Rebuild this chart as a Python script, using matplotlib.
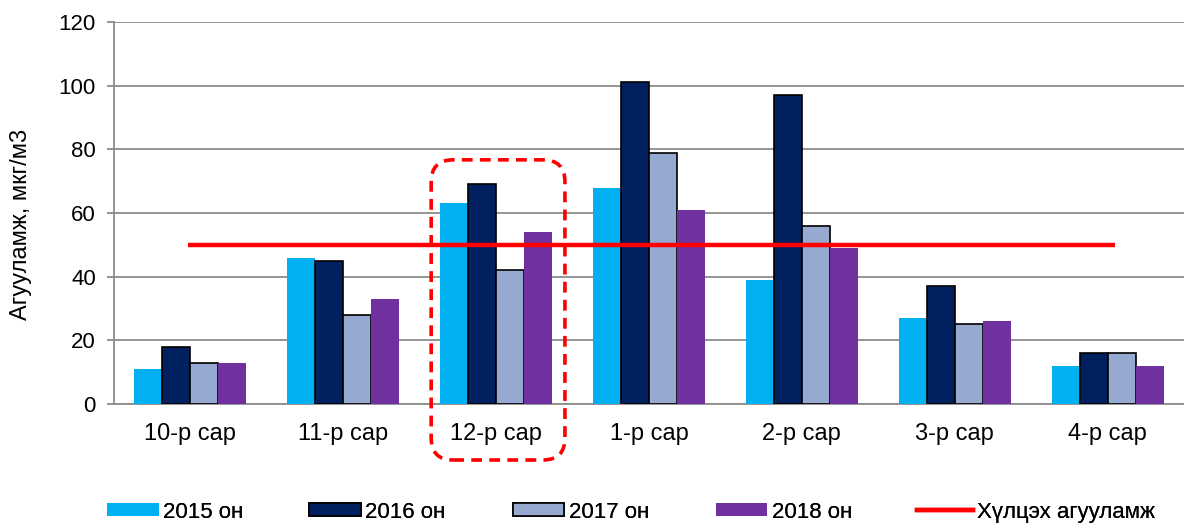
import numpy as np
from matplotlib import pyplot as plt
from matplotlib.patches import FancyBboxPatch, Patch
from matplotlib.lines import Line2D
from matplotlib.transforms import IdentityTransform

plt.rcParams['font.family'] = ['Liberation Sans', 'DejaVu Sans']

months = ['10-р сар', '11-р сар', '12-р сар', '1-р сар', '2-р сар', '3-р сар', '4-р сар']
years = ['2015 он', '2016 он', '2017 он', '2018 он']
v2015 = [11, 46, 63, 68, 39, 27, 12]
v2016 = [18, 45, 69, 101, 97, 37, 16]
v2017 = [13, 28, 42, 79, 56, 25, 16]
v2018 = [13, 33, 54, 61, 49, 26, 12]
norm = 50
norm_label = 'Хүлцэх агууламж'
highlight = '12-р сар'

colors = ['#00B0F0', '#002060', '#95A9D1', '#7030A0']
edges = [None, 'black', 'black', None]
series = [v2015, v2016, v2017, v2018]

fig = plt.figure(figsize=(11.84, 5.23), dpi=100)
ax = fig.add_axes([114 / 1184, 1 - 404 / 523, 1 - 114 / 1184, (404 - 22) / 523])

x = np.arange(len(months))
w = 0.183
for k, vals in enumerate(series):
    ax.bar(x + (k - 1.5) * w, vals, w, color=colors[k],
           edgecolor=edges[k] if edges[k] else colors[k],
           linewidth=1.2 if edges[k] else 0, zorder=3)

ax.plot([x[0] - 0.013, x[-1] + 0.05], [norm, norm], color='#FF0000', lw=3.2,
        solid_capstyle='butt', zorder=4)

ax.set_xlim(-0.5, len(months) - 0.5)
ax.set_ylim(0, 120)
ax.set_yticks(range(0, 121, 20))
ax.set_xticks(x)
ax.set_xticklabels(months)
ax.grid(axis='y', color='#8C8C8C', lw=1.3, zorder=0)
for s in ['top', 'right']:
    ax.spines[s].set_visible(False)
for s in ['left', 'bottom']:
    ax.spines[s].set_color('#8C8C8C')
    ax.spines[s].set_linewidth(1.3)
ax.tick_params(axis='y', length=5, width=1.3, color='#8C8C8C', pad=8, labelsize=16)
ax.tick_params(axis='x', length=0, pad=14, labelsize=17)
ax.set_ylabel('Агууламж, мкг/м3', fontsize=17)
ax.yaxis.set_label_coords(-0.077, 0.471)

# dashed rounded box around the highlighted month
i = months.index(highlight)
x0, y0 = ax.transData.transform((i - 0.425, 0))
x1, y1 = ax.transData.transform((i + 0.45, 76.7))
y0 = y0 - 56
box = FancyBboxPatch((x0, y0), x1 - x0, y1 - y0,
                     boxstyle='round,pad=0,rounding_size=22',
                     transform=IdentityTransform(), fill=False,
                     edgecolor='#FF0000', lw=2.6, ls=(0, (3, 2)),
                     clip_on=False, zorder=5)
fig.patches.append(box)

# legend entries spaced like the original (one small legend per entry)
handles = [Patch(facecolor=colors[k], edgecolor=edges[k] if edges[k] else colors[k],
                 linewidth=1.2 if edges[k] else 0) for k in range(4)]
handles.append(Line2D([0], [0], color='#FF0000', lw=3.2))
labels = years + [norm_label]
legend_x = [107, 309, 513, 716, 917]
legend_len = [2.34, 2.34, 2.3, 2.3, 2.5]
for h, lab, lx, hl in zip(handles, labels, legend_x, legend_len):
    leg = fig.legend([h], [lab], loc='center left', bbox_to_anchor=(lx / 1184, 0.021),
                     frameon=False, fontsize=16, handlelength=hl, handleheight=0.55,
                     handletextpad=0.2, borderpad=0, borderaxespad=0)
    fig.add_artist(leg)

fig.savefig('out.png', dpi=100)
